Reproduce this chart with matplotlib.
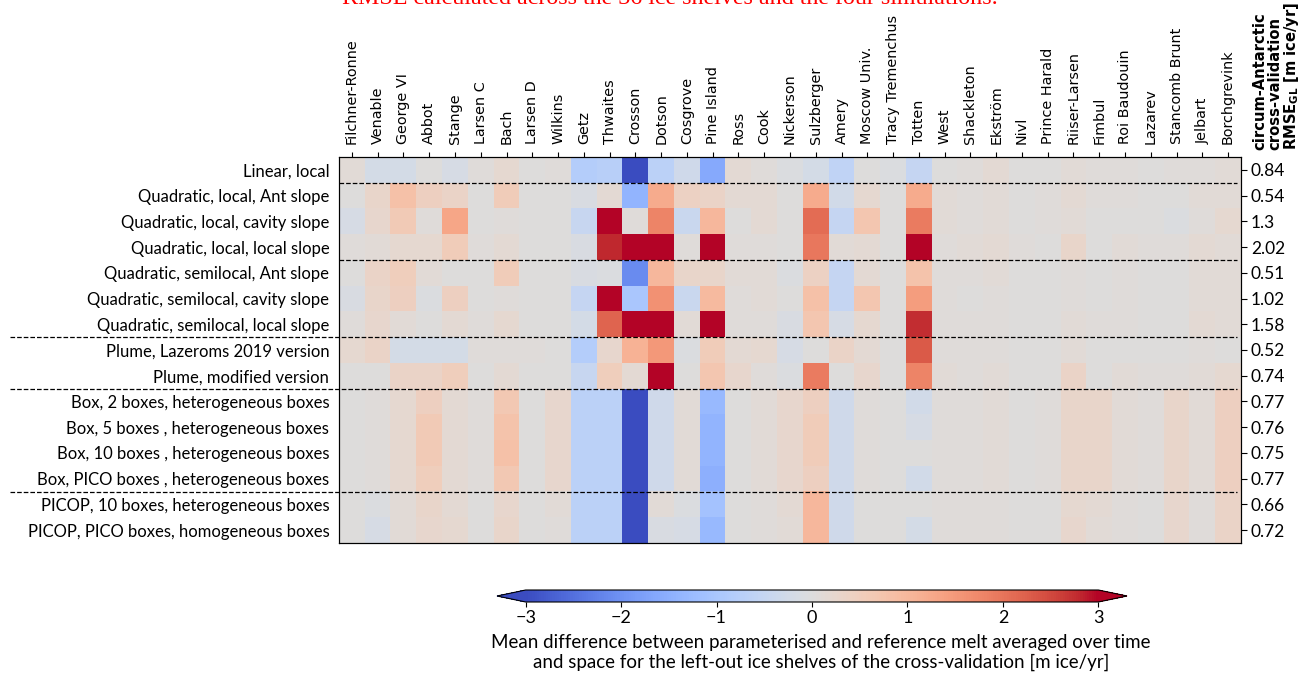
import numpy as np
import matplotlib.pyplot as plt

# ice shelves (columns)
shelves = ['Filchner-Ronne', 'Venable', 'George VI', 'Abbot', 'Stange', 'Larsen C', 'Bach',
           'Larsen D', 'Wilkins', 'Getz', 'Thwaites', 'Crosson', 'Dotson', 'Cosgrove',
           'Pine Island', 'Ross', 'Cook', 'Nickerson', 'Sulzberger', 'Amery', 'Moscow Univ.',
           'Tracy Tremenchus', 'Totten', 'West', 'Shackleton', 'Ekström', 'Nivl',
           'Prince Harald', 'Riiser-Larsen', 'Fimbul', 'Roi Baudouin', 'Lazarev',
           'Stancomb Brunt', 'Jelbart', 'Borchgrevink']

# parameterisations (rows)
params = ['Linear, local',
          'Quadratic, local, Ant slope',
          'Quadratic, local, cavity slope',
          'Quadratic, local, local slope',
          'Quadratic, semilocal, Ant slope',
          'Quadratic, semilocal, cavity slope',
          'Quadratic, semilocal, local slope',
          'Plume, Lazeroms 2019 version',
          'Plume, modified version',
          'Box, 2 boxes, heterogeneous boxes',
          'Box, 5 boxes , heterogeneous boxes',
          'Box, 10 boxes , heterogeneous boxes',
          'Box, PICO boxes , heterogeneous boxes',
          'PICOP, 10 boxes, heterogeneous boxes',
          'PICOP, PICO boxes, homogeneous boxes']

rmse = ['0.84', '0.54', '1.3', '2.02', '0.51', '1.02', '1.58', '0.52', '0.74',
        '0.77', '0.76', '0.75', '0.77', '0.66', '0.72']

# mean difference per parameterisation [m ice/yr], one value per ice shelf
lin_local = [0.1, -0.2, -0.2, 0.0, -0.15, 0.05, 0.2, 0.0, 0.05, -0.8, -0.75, -3.2, -0.7, -0.3, -1.6, 0.15, 0.05, -0.05,
             -0.2, -0.6, 0.0, -0.05, -0.5, 0.0, 0.05, 0.15, 0.0, 0.0, 0.1, 0.05, 0.05, 0.0, 0.05, 0.05, 0.1]
quad_loc_ant = [0.0, 0.3, 0.8, 0.45, 0.35, 0.0, 0.55, 0.0, 0.0, -0.1, 0.15, -1.4, 1.2, 0.4, 0.35, 0.15, 0.15, 0.0,
                1.2, -0.25, 0.2, 0.0, 1.2, 0.1, 0.05, 0.1, 0.0, 0.05, 0.15, 0.05, 0.05, 0.0, 0.0, 0.1, 0.1]
quad_loc_cav = [-0.15, 0.25, 0.6, 0.05, 1.3, 0.0, 0.05, 0.0, 0.0, -0.45, 3.5, 0.05, 1.8, -0.4, 1.0, 0.0, 0.15, 0.0,
                2.1, -0.5, 0.7, 0.0, 1.9, 0.1, 0.05, 0.1, 0.0, 0.05, 0.1, 0.0, 0.0, 0.0, -0.05, 0.05, 0.2]
quad_loc_loc = [0.05, 0.1, 0.2, 0.2, 0.55, 0.05, 0.15, 0.0, 0.0, -0.1, 2.8, 3.5, 3.5, 0.05, 3.5, 0.05, 0.05, 0.0,
                1.95, 0.1, 0.15, 0.0, 3.5, 0.05, 0.1, 0.15, 0.05, 0.0, 0.3, 0.0, 0.1, 0.05, 0.05, 0.15, 0.1]
quad_semi_ant = [0.0, 0.35, 0.5, 0.1, 0.0, 0.0, 0.55, 0.0, 0.0, -0.1, -0.05, -2.1, 1.0, 0.3, 0.3, 0.1, 0.1, -0.05,
                 0.4, -0.5, 0.15, 0.0, 0.75, 0.05, 0.05, 0.1, 0.0, 0.0, 0.05, 0.0, 0.05, 0.0, 0.0, 0.1, 0.1]
quad_semi_cav = [-0.1, 0.3, 0.45, -0.05, 0.45, 0.0, 0.05, 0.0, 0.0, -0.5, 3.5, -1.0, 1.6, -0.4, 0.95, 0.05, 0.1, 0.0,
                 0.8, -0.5, 0.7, 0.0, 1.45, 0.05, 0.0, 0.05, 0.0, 0.0, 0.05, 0.0, 0.05, 0.0, 0.0, 0.1, 0.1]
quad_semi_loc = [0.05, 0.25, 0.1, 0.0, 0.15, 0.05, 0.2, 0.0, 0.0, -0.2, 2.2, 3.5, 3.5, 0.1, 3.5, 0.05, 0.05, -0.1,
                 0.7, -0.15, 0.2, 0.0, 2.75, 0.05, 0.05, 0.05, 0.0, 0.0, 0.1, 0.05, 0.05, 0.0, 0.0, 0.15, 0.1]
plume_laz = [0.2, 0.35, -0.2, -0.2, -0.2, 0.05, 0.05, 0.05, 0.0, -0.8, 0.25, 1.1, 1.5, -0.05, 0.55, 0.15, 0.2, -0.15,
             0.0, 0.35, 0.15, 0.0, 2.3, 0.05, 0.05, 0.05, 0.0, 0.0, 0.1, 0.0, 0.0, 0.0, 0.0, 0.05, 0.0]
plume_mod = [0.0, 0.0, 0.35, 0.35, 0.5, 0.0, 0.15, 0.0, 0.0, -0.45, 0.5, 0.15, 3.5, 0.0, 0.7, 0.25, 0.05, -0.05,
             1.9, 0.0, 0.25, 0.0, 1.8, 0.1, 0.05, 0.1, 0.0, 0.0, 0.35, 0.0, 0.1, 0.05, 0.05, 0.1, 0.2]
box_2 = [0.0, 0.05, 0.2, 0.45, 0.15, 0.05, 0.65, 0.0, 0.25, -0.7, -0.7, -3.3, -0.3, 0.1, -1.3, 0.0, 0.1, 0.25,
         0.45, -0.3, 0.05, 0.0, -0.25, 0.05, 0.05, 0.1, 0.0, 0.05, 0.3, 0.3, 0.1, 0.05, 0.3, 0.1, 0.45]
box_5 = [0.0, 0.05, 0.2, 0.6, 0.15, 0.05, 0.75, 0.0, 0.25, -0.7, -0.7, -3.3, -0.3, 0.1, -1.4, 0.0, 0.1, 0.25,
         0.55, -0.3, 0.05, 0.0, -0.15, 0.05, 0.05, 0.1, 0.0, 0.05, 0.3, 0.3, 0.1, 0.05, 0.3, 0.1, 0.45]
box_10 = [0.0, 0.05, 0.2, 0.6, 0.15, 0.05, 0.8, 0.0, 0.25, -0.7, -0.7, -3.3, -0.3, 0.1, -1.4, 0.0, 0.1, 0.25,
          0.55, -0.3, 0.05, 0.0, 0.0, 0.05, 0.05, 0.1, 0.0, 0.05, 0.3, 0.3, 0.1, 0.05, 0.3, 0.1, 0.45]
box_pico = [0.0, 0.05, 0.2, 0.5, 0.15, 0.05, 0.65, 0.0, 0.25, -0.7, -0.7, -3.3, -0.3, 0.1, -1.5, 0.0, 0.1, 0.25,
            0.45, -0.3, 0.05, 0.0, -0.25, 0.05, 0.05, 0.1, 0.0, 0.05, 0.3, 0.3, 0.1, 0.05, 0.3, 0.1, 0.45]
picop_10 = [0.0, -0.05, 0.1, 0.3, 0.15, 0.0, 0.25, 0.0, 0.1, -0.7, -0.7, -3.3, 0.1, -0.05, -1.1, 0.0, 0.05, 0.15,
            1.0, -0.3, 0.0, 0.0, 0.0, 0.05, 0.05, 0.05, 0.0, 0.0, 0.2, 0.15, 0.05, 0.0, 0.25, 0.05, 0.35]
picop_pico = [0.0, -0.15, 0.1, 0.25, 0.2, 0.0, 0.3, 0.0, 0.05, -0.7, -0.7, -3.3, -0.1, -0.15, -1.3, 0.0, 0.05, 0.1,
              1.0, -0.3, 0.0, 0.0, -0.2, 0.05, 0.05, 0.05, 0.0, 0.0, 0.25, 0.1, 0.05, 0.0, 0.25, 0.05, 0.35]

diff = np.array([lin_local, quad_loc_ant, quad_loc_cav, quad_loc_loc, quad_semi_ant, quad_semi_cav,
                 quad_semi_loc, plume_laz, plume_mod, box_2, box_5, box_10, box_pico, picop_10, picop_pico])

label_font = 'Lato'

fig = plt.figure(figsize=(13.06, 6.74), dpi=100)
ax = fig.add_axes([339 / 1306, 1 - 543 / 674, 902 / 1306, 386 / 674])

im = ax.imshow(diff, cmap='coolwarm', vmin=-3, vmax=3, aspect='auto', interpolation='nearest')

# ice shelf names on top
ax.set_xticks(range(len(shelves)))
ax.set_xticklabels(shelves, rotation=90, fontsize=10.4)
ax.xaxis.tick_top()
ax.tick_params(axis='x', length=3.5, pad=6)

# parameterisation names on the left
ax.set_yticks(range(len(params)))
ax.set_yticklabels(params, fontsize=12, fontfamily=label_font)
ax.tick_params(axis='y', length=0, pad=7)

# RMSE on the right
ax2 = ax.twinx()
ax2.set_ylim(ax.get_ylim())
ax2.set_yticks(range(len(params)))
ax2.set_yticklabels(rmse, fontsize=12.5, fontfamily=label_font)
ax2.tick_params(axis='y', length=4, pad=3)

# group separators
for y in [0.5, 3.5]:
    ax.axhline(y, xmin=0, xmax=0.996, color='black', ls='--', lw=0.9)
for y in [6.5, 8.5, 12.5]:
    ax.axhline(y, xmin=-0.365, xmax=0.996, color='black', ls='--', lw=0.9, clip_on=False)

fig.text(1252 / 1306, 1 - 150 / 674,
         'circum-Antarctic\ncross-validation\nRMSE$_{\\mathbf{GL}}$ [m ice/yr]',
         rotation=90, fontsize=10.6, fontweight='bold', ha='left', va='bottom',
         linespacing=1.0)

# colorbar
cax = fig.add_axes([497 / 1306, 1 - 602 / 674, 630 / 1306, 12 / 674])
cb = fig.colorbar(im, cax=cax, orientation='horizontal', extend='both')
cb.set_ticks([-3, -2, -1, 0, 1, 2, 3])
cb.ax.tick_params(labelsize=13, pad=2)
for t in cb.ax.get_xticklabels():
    t.set_fontfamily(label_font)
cb.set_label('Mean difference between parameterised and reference melt averaged over time\n'
             'and space for the left-out ice shelves of the cross-validation [m ice/yr]',
             fontsize=13.5, fontfamily=label_font, labelpad=6)
cb.ax.xaxis.label.set_x(0.516)

# caption cut off at the top
fig.text(670 / 1306, 1 - 4 / 674,
         'RMSE calculated across the 36 ice shelves and the four simulations.',
         color='red', fontsize=17.3, fontfamily='Liberation Serif', ha='center', va='baseline')

plt.savefig('out.png', dpi=100)
